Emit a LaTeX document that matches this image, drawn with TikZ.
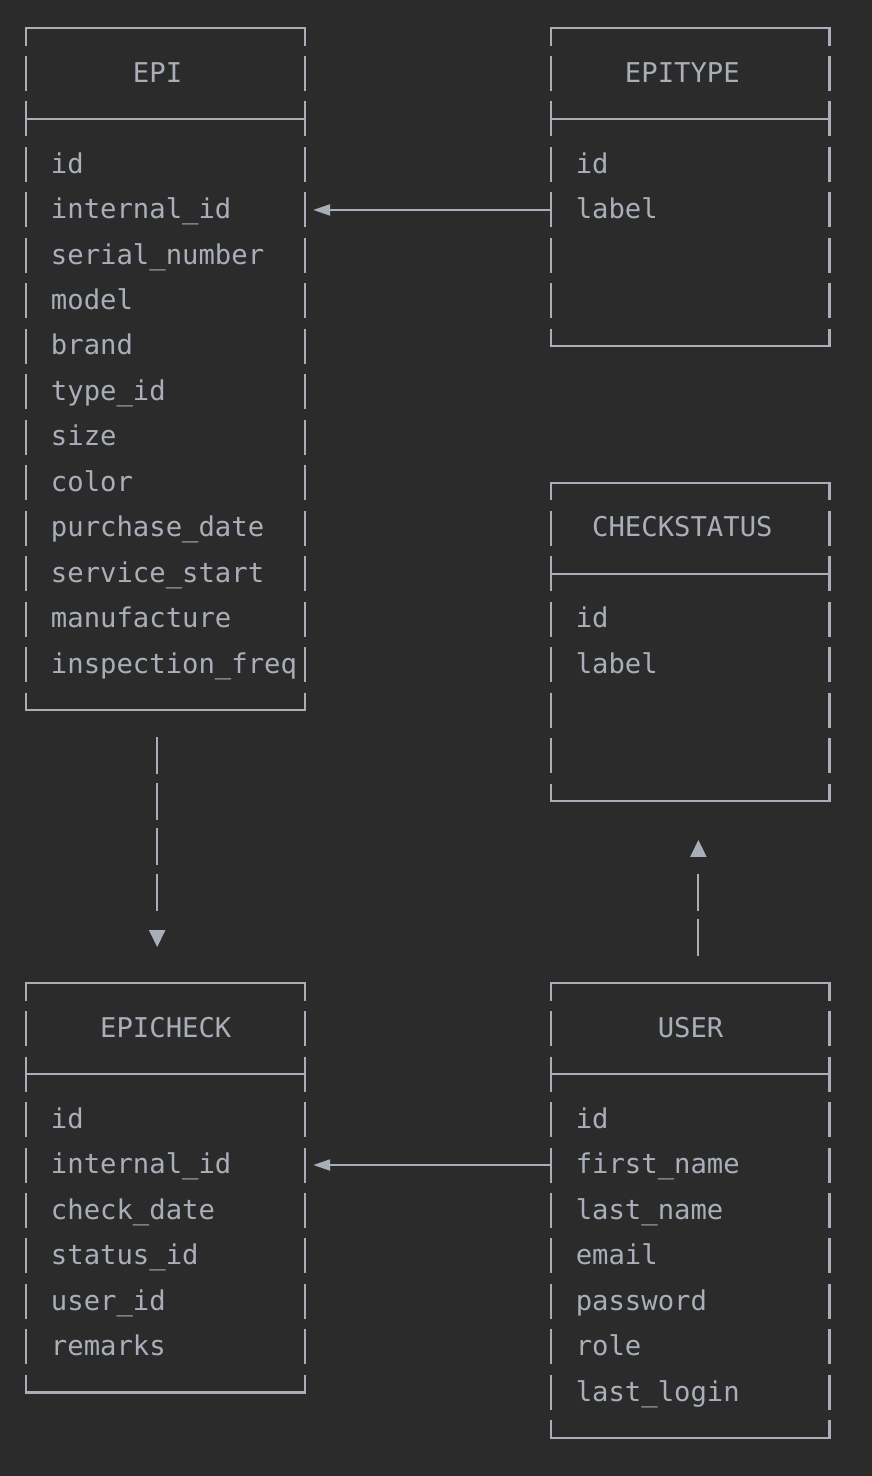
\documentclass[tikz,border=0pt]{standalone}
\usepackage{fontspec}
\setmonofont{DejaVu Sans Mono}
\usetikzlibrary{arrows.meta}
\definecolor{bgcol}{HTML}{2B2B2B}
\definecolor{inkcol}{HTML}{A9AEB8}

\begin{document}
\begin{tikzpicture}[x=8.2pt,y=-22.74pt,
    every node/.style={text=inkcol,font=\ttfamily\fontsize{13.62}{16}\selectfont},
    tbl/.style={minimum width=139.4pt,minimum height=#1*22.74pt,inner sep=0pt,outer sep=0pt},
    field/.style={anchor=west,inner sep=0pt,text height=15pt,text depth=6.4pt},
    hline/.style={draw=inkcol,line width=1.1pt,line cap=rect},
    vline/.style={draw=inkcol,line width=1.1pt,dash pattern=on 17.5pt off 5.24pt,dash phase=8.75pt},
    fk/.style={hline,-{Triangle[length=8.5pt,width=5.5pt]},shorten >=4.2pt},
    rel/.style={hline,-{Triangle[length=8.5pt,width=8pt]},shorten <=14pt}]

  \fill[bgcol] (-1.585,-0.616) rectangle (51.585,31.838);

  \path (8.5,7.5) node[tbl=15] (epi) {};
  \path (40.5,3.5) node[tbl=7] (epitype) {};
  \path (40.5,13.5) node[tbl=7] (checkstatus) {};
  \path (8.5,25.5) node[tbl=9] (epicheck) {};
  \path (40.5,26) node[tbl=10] (user) {};

  \foreach \t in {epi,epitype,checkstatus,epicheck,user} {
    \draw[hline] (\t.north west) -- (\t.north east);
    \draw[hline] ([shift={(0,2)}]\t.north west) -- ([shift={(0,2)}]\t.north east);
    \draw[hline] (\t.south west) -- (\t.south east);
    \draw[vline] (\t.north west) -- (\t.south west);
    \draw[vline] (\t.north east) -- (\t.south east);
  }

  \path (6.5,1) node[field] (epi-title) {EPI};
  \path (36.5,1) node[field] (epitype-title) {EPITYPE};
  \path (34.5,11) node[field] (checkstatus-title) {CHECKSTATUS};
  \path (4.5,22) node[field] (epicheck-title) {EPICHECK};
  \path (38.5,22) node[field] (user-title) {USER};

  \foreach \f [count=\i] in {id,internal\_id,serial\_number,model,brand,type\_id,size,color,purchase\_date,service\_start,manufacture,inspection\_freq}
    \path (1.5,\i+2) node[field] (epi-\i) {\f};
  \foreach \f [count=\i] in {id,label}
    \path (33.5,\i+2) node[field] (epitype-\i) {\f};
  \foreach \f [count=\i] in {id,label}
    \path (33.5,\i+12) node[field] (checkstatus-\i) {\f};
  \foreach \f [count=\i] in {id,internal\_id,check\_date,status\_id,user\_id,remarks}
    \path (1.5,\i+23) node[field] (epicheck-\i) {\f};
  \foreach \f [count=\i] in {id,first\_name,last\_name,email,password,role,last\_login}
    \path (33.5,\i+23) node[field] (user-\i) {\f};

  \draw[fk] (epitype.west |- epitype-2) -- (epi.east |- epi-2);
  \draw[fk] (user.west |- user-2) -- (epicheck.east |- epicheck-2);
  \draw[rel,shorten >=18pt,dash pattern=on 17.5pt off 5.24pt on 17.5pt off 5.24pt on 17.5pt off 5.24pt on 17.5pt off 40pt]
    ([xshift=-4.1pt]epi.south) -- ([xshift=-4.1pt]epicheck.north);
  \draw[rel,shorten >=19.4pt,dash pattern=on 17.5pt off 5.24pt on 17.5pt off 40pt]
    ([xshift=4.1pt]user.north) -- ([xshift=4.1pt]checkstatus.south);
\end{tikzpicture}
\end{document}
